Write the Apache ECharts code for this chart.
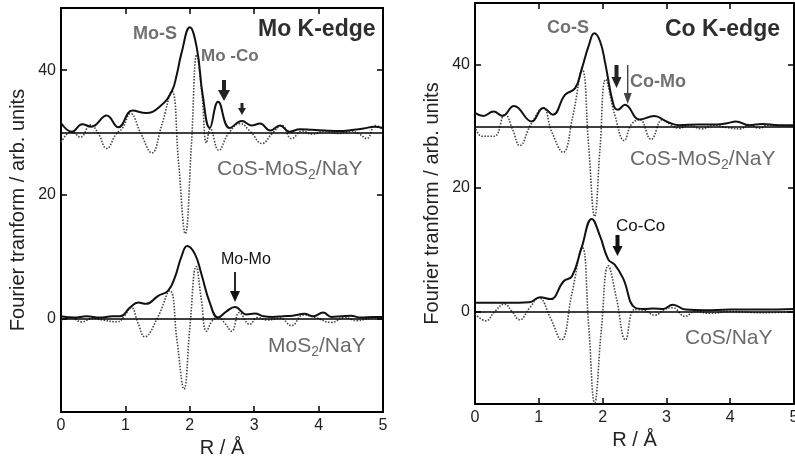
<!DOCTYPE html>
<html>
<head>
<meta charset="utf-8">
<script src="https://cdn.jsdelivr.net/npm/echarts@6/dist/echarts.min.js"></script>
<style>html,body{margin:0;padding:0;background:#fff}#c{width:795px;height:457px}</style>
</head>
<body>
<div id="c"></div>
<script>
// ---- Data (R in Å, FT magnitude / imaginary part, upper pair offset by 30) ----
const xTicks = [0, 1, 2, 3, 4, 5];
const yTickValues = [0, 20, 40];
const offsetUpper = 30;
const offsetLower = 0;

// Mo K-edge, CoS-MoS2/NaY
const moCoMoS2Abs = [[0,31.5],[0.17,30.1],[0.33,31.3],[0.47,30.9],[0.71,32.7],[0.89,30.8],[1.11,33.5],[1.32,33.1],[1.54,34.2],[1.72,36.6],[1.8,39.4],[1.87,42.7],[2.0,46.9],[2.11,43.5],[2.2,36.0],[2.31,30.7],[2.44,34.9],[2.62,30.7],[2.81,31.8],[2.96,31.1],[3.09,31.4],[3.25,30.3],[3.40,31.1],[3.55,30.1],[3.71,30.5],[3.9,30.4],[4.1,30.3],[4.3,30.2],[4.55,30.4],[4.7,30.6],[4.86,30.9],[5.0,30.7]];
const moCoMoS2Im = [[0,28.4],[0.1,29.8],[0.17,30.1],[0.3,29.2],[0.46,31.2],[0.58,29.8],[0.71,27.4],[0.86,29.8],[0.95,30.6],[1.08,33.0],[1.24,29.8],[1.41,26.7],[1.56,31.0],[1.72,36.6],[1.825,25.2],[1.93,13.7],[2.025,28.0],[2.11,42.5],[2.19,36.0],[2.26,28.3],[2.32,30.6],[2.45,27.1],[2.6,29.8],[2.78,31.4],[2.95,30.0],[3.12,28.2],[3.28,29.8],[3.43,31.1],[3.58,29.0],[3.75,30.2],[3.9,29.7],[4.1,30.2],[4.3,29.8],[4.5,30.2],[4.62,29.8],[4.75,29.0],[4.88,31.1],[5.0,30.5]];
// Mo K-edge, MoS2/NaY
const mos2Abs = [[0,0.4],[0.2,0.2],[0.4,0.4],[0.6,0.2],[0.8,0.4],[0.92,0.4],[1.07,1.8],[1.2,2.6],[1.32,2.4],[1.51,3.7],[1.66,4.5],[1.77,6.7],[1.87,10.0],[1.96,11.7],[2.08,10.4],[2.18,7.2],[2.31,2.6],[2.44,0.2],[2.57,1.2],[2.70,1.9],[2.88,0.7],[3.01,0.85],[3.15,0.4],[3.28,0.3],[3.45,0.4],[3.6,0.5],[3.78,0.8],[3.92,0.4],[4.07,1.0],[4.2,0.3],[4.35,0.4],[4.5,0.5],[4.65,0.2],[4.85,0.3],[5.0,0.3]];
const mos2Im = [[0,-0.3],[0.15,0.2],[0.32,-0.5],[0.5,0.1],[0.65,-0.2],[0.88,-0.5],[0.98,0.4],[1.09,1.8],[1.2,-0.8],[1.30,-2.9],[1.5,0.2],[1.69,4.5],[1.8,-3.4],[1.91,-11.3],[2.0,-1.5],[2.10,8.4],[2.18,3.0],[2.26,-2.0],[2.35,-0.3],[2.44,0.3],[2.55,-0.8],[2.65,-2.0],[2.77,1.0],[2.93,-0.9],[3.05,0.2],[3.2,-0.2],[3.4,0.1],[3.58,-1.1],[3.76,0.6],[3.95,0.2],[4.2,-0.6],[4.4,0.2],[4.6,-0.3],[4.8,0.1],[5.0,0.2]];
// Co K-edge, CoS-MoS2/NaY
const coCoMoS2Abs = [[0,32.2],[0.13,31.7],[0.29,32.4],[0.43,31.7],[0.61,33.3],[0.89,30.8],[1.07,33.0],[1.22,31.9],[1.41,35.1],[1.57,36.2],[1.67,39.2],[1.78,43.0],[1.87,45.1],[1.96,43.8],[2.04,40.3],[2.17,33.5],[2.24,32.7],[2.35,33.5],[2.58,31.1],[2.81,31.7],[3.0,30.8],[3.2,30.2],[3.5,30.3],[3.8,30.3],[3.95,30.5],[4.09,30.8],[4.3,30.2],[4.5,30.4],[4.75,30.2],[5.0,30.2]];
const coCoMoS2Im = [[0,30.0],[0.11,28.4],[0.3,28.4],[0.47,32.0],[0.59,29.5],[0.70,26.9],[0.88,30.4],[1.07,33.0],[1.2,29.2],[1.38,25.8],[1.53,31.5],[1.68,39.2],[1.78,27.0],[1.875,15.4],[1.96,26.5],[2.05,37.6],[2.19,31.9],[2.34,27.7],[2.45,30.3],[2.58,31.1],[2.76,27.9],[2.94,31.1],[3.08,30.2],[3.2,29.7],[3.35,30.2],[3.55,29.6],[3.75,30.2],[3.95,29.8],[4.16,29.6],[4.3,30.3],[4.45,29.7],[4.6,30.2],[5.0,30.0]];
// Co K-edge, CoS/NaY
const cosAbs = [[0,1.4],[0.5,1.4],[0.85,1.5],[1.02,2.3],[1.18,2.0],[1.39,4.9],[1.52,5.7],[1.67,10.3],[1.83,15.0],[1.96,12.2],[2.09,8.4],[2.19,7.6],[2.32,5.4],[2.51,0.6],[2.65,0.4],[2.8,0.5],[2.95,0.4],[3.10,1.1],[3.3,0.3],[3.6,0.2],[4.0,0.3],[4.5,0.3],[5.0,0.4]];
const cosIm = [[0,-0.4],[0.17,-1.5],[0.31,0],[0.46,1.2],[0.58,0],[0.70,-1.35],[0.85,0.5],[1.0,2.2],[1.18,-1.0],[1.35,-4.6],[1.52,3.0],[1.68,10.4],[1.78,-2.0],[1.875,-14.8],[1.98,-3.0],[2.09,7.4],[2.22,2.0],[2.36,-4.6],[2.5,0.3],[2.65,0.2],[2.82,-0.6],[2.97,0.3],[3.1,0.6],[3.29,-0.8],[3.45,0],[3.7,-0.3],[4.0,0.0],[4.5,-0.2],[5.0,0.0]];

// ---- Chart ----
const FONT = 'Liberation Sans, Arial, Helvetica, sans-serif';
const chart = echarts.init(document.getElementById('c'), null, {renderer: 'canvas'});

function xAxisPair(gi, gap) {
  return [
    {gridIndex: gi, type: 'value', min: 0, max: 5, interval: 1, position: 'bottom',
     name: 'R / \u00C5', nameLocation: 'middle', nameGap: gap,
     nameTextStyle: {fontSize: 20, color: '#222', fontFamily: FONT},
     axisLine: {show: true, onZero: false, lineStyle: {color: '#000', width: 2}},
     axisTick: {show: true, inside: true, length: 6, lineStyle: {color: '#000', width: 1.5}},
     axisLabel: {show: true, margin: 6, fontSize: 16, color: '#222', fontFamily: FONT},
     splitLine: {show: false}},
    {gridIndex: gi, type: 'value', min: 0, max: 5, interval: 1, position: 'top',
     axisLine: {show: true, onZero: false, lineStyle: {color: '#000', width: 2}},
     axisTick: {show: true, inside: true, length: 6, lineStyle: {color: '#000', width: 1.5}},
     axisLabel: {show: false}, splitLine: {show: false}}
  ];
}
function yAxisPair(gi) {
  return [
    {gridIndex: gi, type: 'value', min: -15, max: 50, position: 'left',
     name: 'Fourier tranform / arb. units', nameLocation: 'middle', nameGap: 33,
     nameTextStyle: {fontSize: 20, color: '#222', fontFamily: FONT},
     axisLine: {show: true, onZero: false, lineStyle: {color: '#000', width: 2}},
     axisTick: {show: true, inside: true, length: 6, customValues: yTickValues, lineStyle: {color: '#000', width: 1.5}},
     axisLabel: {show: true, margin: 5, fontSize: 16, color: '#222', fontFamily: FONT, customValues: yTickValues},
     splitLine: {show: false}},
    {gridIndex: gi, type: 'value', min: -15, max: 50, position: 'right',
     axisLine: {show: true, onZero: false, lineStyle: {color: '#000', width: 2}},
     axisTick: {show: true, inside: true, length: 6, customValues: yTickValues, lineStyle: {color: '#000', width: 1.5}},
     axisLabel: {show: false}, splitLine: {show: false}}
  ];
}

function solid(data, xi, yi, base) {
  return {type: 'line', xAxisIndex: xi, yAxisIndex: yi, data: data, smooth: 0.45, symbol: 'none',
    lineStyle: {color: '#111', width: 2}, z: 3, silent: true,
    markLine: {silent: true, symbol: 'none', label: {show: false},
      lineStyle: {color: '#000', width: 1.5, type: 'solid'}, data: [{yAxis: base}]}};
}
function dotted(data, xi, yi) {
  return {type: 'line', xAxisIndex: xi, yAxisIndex: yi, data: data, smooth: 0.45, symbol: 'none',
    lineStyle: {color: '#444', width: 1.6, type: [1.5, 1.5]}, z: 2, silent: true};
}

function label(x, y, text, size, weight, color, align) {
  return {type: 'text', x: x, y: y, z: 10, style: {text: text, fontSize: size, fontWeight: weight,
    fontFamily: FONT, fill: color, align: align || 'left', textAlign: align || 'left',
    verticalAlign: 'middle', textVerticalAlign: 'middle'}};
}
function subLabel(x, y, pre, sub, post, size, color) {
  return {type: 'text', x: x, y: y, z: 10, style: {
    text: '{a|' + pre + '}{s|' + sub + '}{a|' + post + '}',
    fontFamily: FONT, fill: color, align: 'left', verticalAlign: 'middle',
    rich: {a: {fontSize: size, fontFamily: FONT, fill: color, lineHeight: 26, verticalAlign: 'middle'},
           s: {fontSize: 14, fontFamily: FONT, fill: color, lineHeight: 14, padding: [12, 0, 0, 0], verticalAlign: 'middle'}}}};
}
function arrow(cx, hw, yt, yh, hh, yb, color) {
  return {type: 'polygon', z: 10, shape: {points: [[cx - hw, yt], [cx + hw, yt], [cx + hw, yh], [cx + hh, yh], [cx, yb], [cx - hh, yh], [cx - hw, yh]]},
    style: {fill: color}};
}

const GRAY = '#6a6a6a';
const option = {
  backgroundColor: '#fff',
  animation: false,
  textStyle: {fontFamily: FONT},
  grid: [
    {left: 61, top: 8, width: 322, height: 404, containLabel: false, outerBoundsMode: 'none'},
    {left: 475, top: 3, width: 319, height: 401, containLabel: false, outerBoundsMode: 'none'}
  ],
  xAxis: [...xAxisPair(0, 26), ...xAxisPair(1, 24)],
  yAxis: [...yAxisPair(0), ...yAxisPair(1)],
  series: [
    solid(moCoMoS2Abs, 0, 0, offsetUpper), dotted(moCoMoS2Im, 0, 0),
    solid(mos2Abs, 0, 0, offsetLower), dotted(mos2Im, 0, 0),
    solid(coCoMoS2Abs, 2, 2, offsetUpper), dotted(coCoMoS2Im, 2, 2),
    solid(cosAbs, 2, 2, offsetLower), dotted(cosIm, 2, 2)
  ],
  graphic: [
    label(258, 30, 'Mo K-edge', 23, 'bold', '#2e2e2e'),
    label(133, 34, 'Mo-S', 18, 'bold', '#707070'),
    label(201, 56, 'Mo -Co', 17, 'bold', '#707070'),
    subLabel(217, 169, 'CoS-MoS', '2', '/NaY', 21, GRAY),
    label(221, 260, 'Mo-Mo', 16, 'normal', '#111'),
    subLabel(268, 346, 'MoS', '2', '/NaY', 21, GRAY),
    arrow(224, 2, 80, 90, 6, 101, '#222'),
    arrow(242, 1.5, 103, 108, 4, 115, '#222'),
    arrow(235, 0.9, 272, 291, 5, 302, '#111'),

    label(665, 30, 'Co K-edge', 23, 'bold', '#2e2e2e'),
    label(547, 28, 'Co-S', 18, 'bold', '#707070'),
    label(630, 82, 'Co-Mo', 18, 'bold', '#707070'),
    subLabel(630, 159, 'CoS-MoS', '2', '/NaY', 21, GRAY),
    label(616, 226, 'Co-Co', 17, 'normal', '#111'),
    label(685, 338, 'CoS/NaY', 21, 'normal', GRAY),
    arrow(616.5, 2, 65, 77, 5, 88, '#222'),
    arrow(627.7, 0.7, 65, 93, 4, 104, '#444'),
    arrow(617.5, 2, 235, 246, 5, 256, '#111')
  ]
};
chart.setOption(option);
</script>
</body>
</html>
